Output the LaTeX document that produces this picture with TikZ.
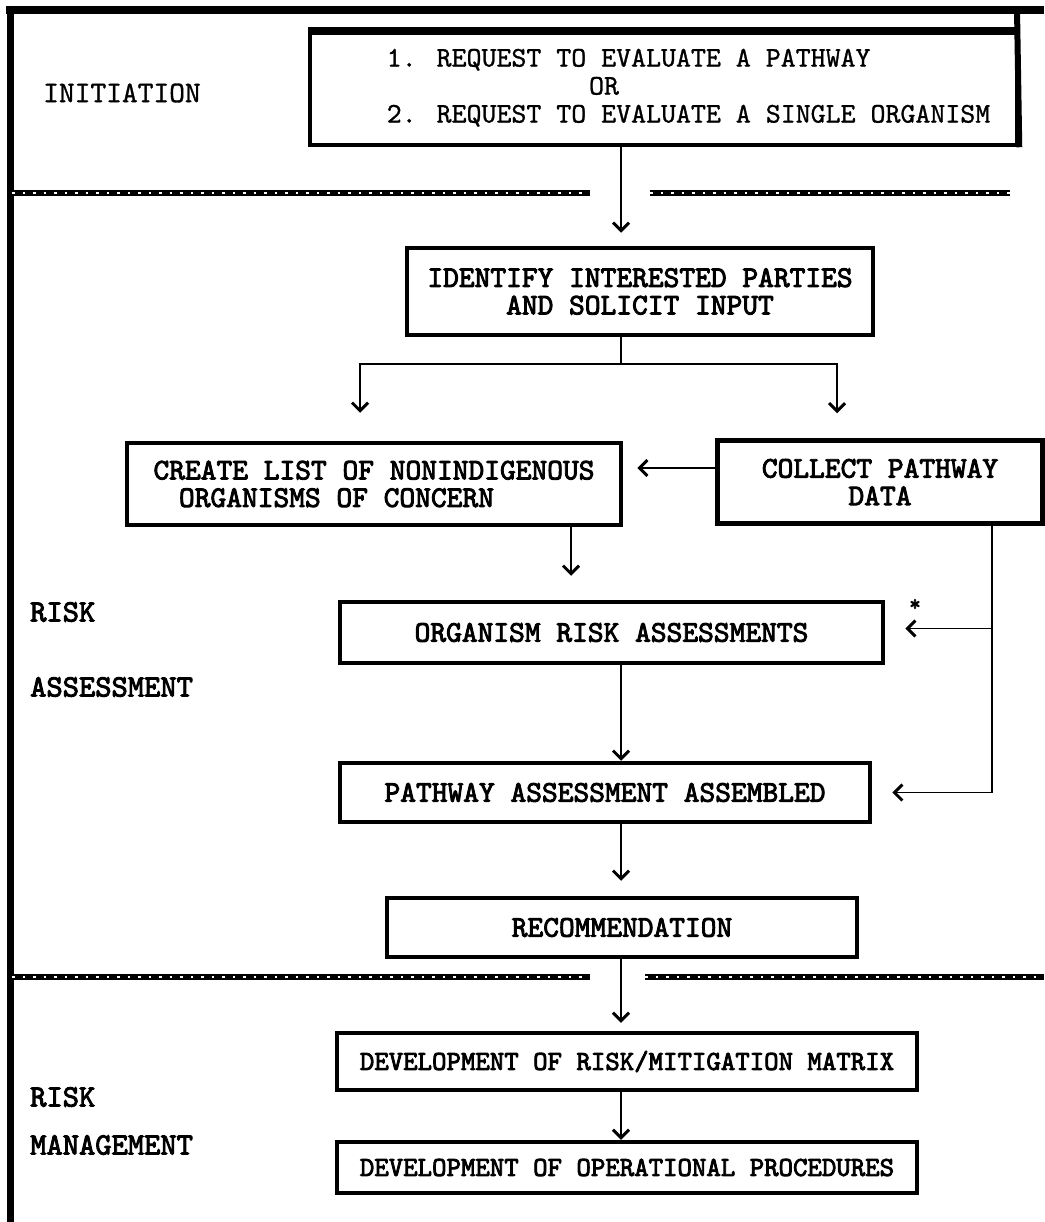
\documentclass[tikz,border=0pt]{standalone}
\usepackage{fontspec}
\newfontfamily\heavytt{lmmono10-regular.otf}[FakeBold=3]
\newfontfamily\plaintt{lmmono10-regular.otf}[FakeBold=1]
\usetikzlibrary{arrows.meta}
\def\sepline(#1)(#2){\draw[line width=6.5pt] (#1) -- (#2); \draw[white, line width=1.8pt, dash pattern=on 2.5pt off 8pt] (#1) -- (#2);}
\tikzset{
  box/.style={draw, line width=4.5pt, inner sep=0pt, align=center, font=\heavytt\fontsize{30}{27.5}\selectfont},
  arr/.style={line width=1.8pt, -{Straight Barb[length=8pt,width=16pt,line width=3pt]}},
  lbl/.style={anchor=west, inner sep=0pt, font=\heavytt\fontsize{31}{29}\selectfont},
}

\begin{document}
\begin{tikzpicture}[x=1pt, y=-1pt]
	%%%%% START %%%%%
	\useasboundingbox (0,0) rectangle (1044,1222);
	
	\node[box, font=\plaintt\fontsize{28.5}{28}\selectfont, minimum width=707pt, minimum height=112pt] (topbox) at (663.5,89)
		{\hspace*{50pt}\begin{tabular}{@{}l@{}}1. REQUEST TO EVALUATE A PATHWAY\\\hspace*{7.1em}OR\\2. REQUEST TO EVALUATE A SINGLE ORGANISM\end{tabular}};
	
	% frame
	\draw[line width=8pt] (6,10) -- (1044,10);
	\draw[line width=7pt] (10,6) -- (10,1222);
	\draw[line width=6pt] (1017,10) -- (topbox.south east);
	\draw[line width=7pt] (topbox.north west) -- (topbox.north east);
	
	\node[lbl, font=\plaintt\fontsize{30}{28}\selectfont] (initiation) at (43,93) {INITIATION};
	\node[lbl] (riska) at (30,612) {RISK};
	\node[lbl] (assess) at (30,687) {ASSESSMENT};
	\node[lbl] (riskm) at (30,1097) {RISK};
	\node[lbl] (manage) at (30,1145) {MANAGEMENT};
	
	\sepline(12,193)(590,193)
	\sepline(650,193)(1010,193)
	\sepline(12,977)(590,977)
	\sepline(645,977)(1044,977)
	
	\node[box, minimum width=466pt, minimum height=87pt] (identify) at (640,291.5) {IDENTIFY INTERESTED PARTIES\\AND SOLICIT INPUT};
	\node[box, align=left, minimum width=494pt, minimum height=82pt] (create) at (374,484) {CREATE LIST OF NONINDIGENOUS\\\hspace*{0.85em}ORGANISMS OF CONCERN};
	\node[box, minimum width=325pt, minimum height=83pt] (collect) at (880,482) {COLLECT PATHWAY\\DATA};
	\node[box, minimum width=543pt, minimum height=61pt] (organism) at (611.5,632.5) {ORGANISM RISK ASSESSMENTS};
	\node[box, minimum width=530pt, minimum height=59pt] (pathway) at (605,792.5) {PATHWAY ASSESSMENT ASSEMBLED};
	\node[box, minimum width=470pt, minimum height=59pt] (recommend) at (622,927.5) {RECOMMENDATION};
	\node[box, font=\heavytt\fontsize{27.5}{26}\selectfont, minimum width=580pt, minimum height=57pt] (devmatrix) at (627,1061.5) {DEVELOPMENT OF RISK/MITIGATION MATRIX};
	\node[box, font=\heavytt\fontsize{27.5}{26}\selectfont, minimum width=580pt, minimum height=51pt] (devproc) at (627,1167.5) {DEVELOPMENT OF OPERATIONAL PROCEDURES};
	
	\node[inner sep=0pt, font=\heavytt\fontsize{22}{22}\selectfont] (star) at (915,605) {*};
	
	% connectors
	\coordinate (spine) at (621,0);
	\coordinate (feed) at (992,0);
	\draw[arr, shorten >=13pt] (topbox.south -| spine) -- (identify.north -| spine);
	\draw[line width=1.8pt] (identify.south -| spine) -- ++(0,27) coordinate (fork);
	\draw[arr, shorten >=28pt] (fork) -| ([xshift=-14pt]create.north);
	\draw[arr, shorten >=25pt] (fork) -| ([xshift=-43pt]collect.north);
	\draw[arr, shorten >=14pt] ([yshift=14pt]collect.west) -- ([yshift=14pt]collect.west -| create.east);
	\draw[arr, shorten >=24pt] ([xshift=197pt]create.south) -- ([xshift=197pt]create.south |- organism.north);
	\draw[arr, shorten >=20pt] (collect.south -| feed) |- (pathway.east);
	\draw[arr, shorten >=20pt] ([yshift=4pt]organism.east -| feed) -- ([yshift=4pt]organism.east);
	\draw[arr] (organism.south -| spine) -- (pathway.north -| spine);
	\draw[arr, shorten >=15pt] (pathway.south -| spine) -- (recommend.north -| spine);
	\draw[arr, shorten >=8pt] (recommend.south -| spine) -- (devmatrix.north -| spine);
	\draw[arr] (devmatrix.south -| spine) -- (devproc.north -| spine);
	
	%%%%% END %%%%%
\end{tikzpicture}
\end{document}
